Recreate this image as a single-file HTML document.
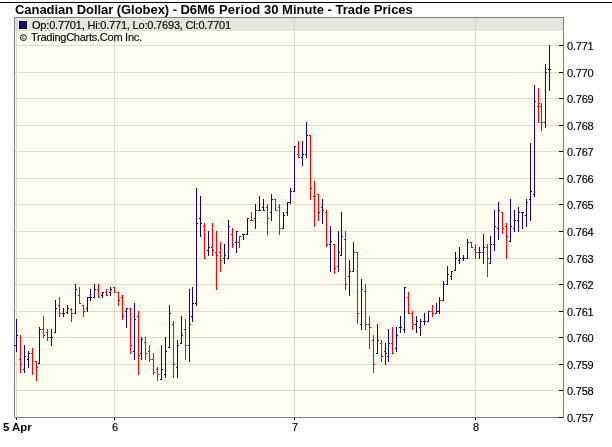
<!DOCTYPE html>
<html><head><meta charset="utf-8"><title>Canadian Dollar (Globex) - D6M6</title>
<style>
html,body{margin:0;padding:0;background:#fff;}
body{width:612px;height:447px;position:relative;overflow:hidden;font-family:"Liberation Sans",sans-serif;color:#000;}
svg{position:absolute;left:0;top:0;display:block;}
.t{position:absolute;white-space:nowrap;line-height:1;}
.t,.yl,.xl{will-change:transform;-webkit-text-stroke:0.15px #000;}
.tt{top:3px;font-size:13px;font-weight:bold;-webkit-text-stroke:0 !important;}
#l1{left:31.7px;top:19.6px;font-size:11px;letter-spacing:-0.19px;}
#l2{left:30.5px;top:31.8px;font-size:11px;letter-spacing:-0.25px;}
.yl{position:absolute;left:566.5px;font-size:11px;letter-spacing:-0.2px;line-height:13px;height:13px;white-space:nowrap;}
.xl{position:absolute;top:421px;width:40px;text-align:center;font-size:11px;line-height:13px;}
#apr{-webkit-text-stroke:0 !important;left:3px;top:421.2px;font-size:11.4px;font-weight:bold;line-height:13px;}
</style></head><body>
<svg width="612" height="447" viewBox="0 0 612 447" shape-rendering="crispEdges"><rect x="0" y="0" width="612" height="447" fill="#ffffff"/><rect x="0" y="2" width="612" height="1" fill="#000"/><rect x="14" y="17" width="550" height="401" fill="#fefef1"/><rect x="15" y="18" width="548" height="13" fill="#e5e5de"/><path d="M15 390h548v1h-548z M15 364h548v1h-548z M15 337h548v1h-548z M15 311h548v1h-548z M15 284h548v1h-548z M15 258h548v1h-548z M15 231h548v1h-548z M15 204h548v1h-548z M15 178h548v1h-548z M15 151h548v1h-548z M15 125h548v1h-548z M15 98h548v1h-548z M15 72h548v1h-548z M15 45h548v1h-548z M16 18h1v399h-1z M114 18h1v399h-1z M294 18h1v399h-1z M475 18h1v399h-1z" fill="#dcdccd"/><path d="M16 18h1v13h-1z M114 18h1v13h-1z M294 18h1v13h-1z M475 18h1v13h-1z" fill="#d5d5cd"/><path d="M14 17h550v1h-550z M14 417h550v1h-550z M14 17h1v401h-1z M563 17h1v401h-1z" fill="#808080"/><path d="M559 417h4v1h-4z M559 390h4v1h-4z M559 364h4v1h-4z M559 337h4v1h-4z M559 311h4v1h-4z M559 284h4v1h-4z M559 258h4v1h-4z M559 231h4v1h-4z M559 204h4v1h-4z M559 178h4v1h-4z M559 151h4v1h-4z M559 125h4v1h-4z M559 98h4v1h-4z M559 72h4v1h-4z M559 45h4v1h-4z M16 418h1v2h-1z M114 418h1v2h-1z M294 418h1v2h-1z M475 418h1v2h-1z" fill="#000"/><path d="M20 335h1v38h-1z M19 359h1v1h-1z M21 364h1v1h-1z M32 348h1v27h-1z M31 353h1v1h-1z M33 361h1v1h-1z M36 361h1v20h-1z M35 361h1v1h-1z M37 367h1v1h-1z M43 316h1v22h-1z M42 329h1v1h-1z M44 335h1v1h-1z M47 329h1v12h-1z M46 332h1v1h-1z M48 337h1v1h-1z M59 297h1v20h-1z M58 305h1v1h-1z M60 313h1v1h-1z M71 308h1v14h-1z M70 309h1v1h-1z M72 313h1v1h-1z M79 287h1v17h-1z M78 295h1v1h-1z M80 303h1v1h-1z M83 305h1v12h-1z M82 305h1v1h-1z M84 311h1v1h-1z M98 284h1v14h-1z M97 289h1v1h-1z M99 297h1v1h-1z M106 289h1v7h-1z M105 292h1v1h-1z M107 295h1v1h-1z M114 287h1v6h-1z M113 287h1v1h-1z M115 292h1v1h-1z M118 292h1v14h-1z M117 292h1v1h-1z M119 300h1v1h-1z M122 295h1v25h-1z M121 297h1v1h-1z M123 316h1v1h-1z M130 308h1v46h-1z M129 308h1v1h-1z M131 345h1v1h-1z M138 311h1v64h-1z M137 316h1v1h-1z M139 355h1v1h-1z M145 337h1v23h-1z M144 342h1v1h-1z M146 353h1v1h-1z M149 345h1v17h-1z M148 351h1v1h-1z M150 359h1v1h-1z M153 353h1v22h-1z M152 359h1v1h-1z M154 372h1v1h-1z M157 367h1v14h-1z M156 369h1v1h-1z M158 374h1v1h-1z M173 321h1v57h-1z M172 324h1v1h-1z M174 364h1v1h-1z M185 319h1v41h-1z M184 329h1v1h-1z M186 345h1v1h-1z M204 223h1v36h-1z M203 226h1v1h-1z M205 258h1v1h-1z M212 223h1v33h-1z M211 247h1v1h-1z M213 250h1v1h-1z M216 231h1v59h-1z M215 252h1v1h-1z M217 255h1v1h-1z M220 242h1v30h-1z M219 252h1v1h-1z M221 260h1v1h-1z M232 228h1v20h-1z M231 234h1v1h-1z M233 244h1v1h-1z M239 236h1v12h-1z M238 242h1v1h-1z M240 236h1v1h-1z M251 212h1v9h-1z M250 220h1v1h-1z M252 220h1v1h-1z M267 204h1v31h-1z M266 207h1v1h-1z M268 218h1v1h-1z M275 199h1v12h-1z M274 199h1v1h-1z M276 210h1v1h-1z M279 204h1v31h-1z M278 207h1v1h-1z M280 228h1v1h-1z M298 141h1v17h-1z M297 154h1v1h-1z M299 157h1v1h-1z M310 135h1v65h-1z M309 135h1v1h-1z M311 188h1v1h-1z M314 181h1v46h-1z M313 196h1v1h-1z M315 196h1v1h-1z M318 194h1v27h-1z M317 194h1v1h-1z M319 212h1v1h-1z M326 210h1v37h-1z M325 212h1v1h-1z M327 244h1v1h-1z M334 244h1v30h-1z M333 244h1v1h-1z M335 268h1v1h-1z M345 231h1v59h-1z M344 239h1v1h-1z M346 284h1v1h-1z M357 252h1v72h-1z M356 252h1v1h-1z M358 313h1v1h-1z M365 284h1v46h-1z M364 291h1v1h-1z M366 324h1v1h-1z M369 316h1v33h-1z M368 324h1v1h-1z M370 327h1v1h-1z M373 335h1v38h-1z M372 340h1v1h-1z M374 364h1v1h-1z M381 340h1v22h-1z M380 343h1v1h-1z M382 356h1v1h-1z M392 327h1v27h-1z M391 343h1v1h-1z M393 353h1v1h-1z M408 292h1v22h-1z M407 297h1v1h-1z M409 313h1v1h-1z M412 311h1v19h-1z M411 313h1v1h-1z M413 324h1v1h-1z M432 305h1v12h-1z M431 311h1v1h-1z M433 313h1v1h-1z M471 242h1v6h-1z M470 242h1v1h-1z M472 247h1v1h-1z M475 244h1v15h-1z M474 249h1v1h-1z M476 252h1v1h-1z M487 244h1v33h-1z M486 247h1v1h-1z M488 258h1v1h-1z M502 212h1v22h-1z M501 212h1v1h-1z M503 228h1v1h-1z M506 223h1v36h-1z M505 226h1v1h-1z M507 236h1v1h-1z M538 88h1v35h-1z M537 106h1v1h-1z M539 103h1v1h-1z M541 103h1v28h-1z M540 106h1v1h-1z M542 122h1v1h-1z" fill="#ff0000"/><path d="M16 319h1v33h-1z M15 345h1v1h-1z M17 335h1v1h-1z M24 345h1v28h-1z M23 369h1v1h-1z M25 356h1v1h-1z M28 351h1v17h-1z M27 359h1v1h-1z M29 353h1v1h-1z M39 327h1v37h-1z M38 363h1v1h-1z M40 329h1v1h-1z M51 329h1v17h-1z M50 337h1v1h-1z M52 337h1v1h-1z M55 300h1v33h-1z M54 332h1v1h-1z M56 308h1v1h-1z M63 308h1v9h-1z M62 313h1v1h-1z M64 313h1v1h-1z M67 305h1v9h-1z M66 312h1v1h-1z M68 308h1v1h-1z M75 284h1v30h-1z M74 313h1v1h-1z M76 289h1v1h-1z M87 297h1v15h-1z M86 308h1v1h-1z M88 297h1v1h-1z M90 289h1v12h-1z M89 297h1v1h-1z M91 297h1v1h-1z M94 284h1v14h-1z M93 297h1v1h-1z M95 289h1v1h-1z M102 292h1v6h-1z M101 295h1v1h-1z M103 292h1v1h-1z M110 287h1v9h-1z M109 292h1v1h-1z M111 289h1v1h-1z M126 308h1v20h-1z M125 311h1v1h-1z M127 308h1v1h-1z M134 303h1v57h-1z M133 351h1v1h-1z M135 319h1v1h-1z M141 337h1v23h-1z M140 353h1v1h-1z M142 339h1v1h-1z M161 345h1v35h-1z M160 379h1v1h-1z M162 369h1v1h-1z M165 337h1v41h-1z M164 374h1v1h-1z M166 351h1v1h-1z M169 305h1v43h-1z M168 347h1v1h-1z M170 313h1v1h-1z M177 340h1v38h-1z M176 367h1v1h-1z M178 345h1v1h-1z M181 316h1v28h-1z M180 343h1v1h-1z M182 335h1v1h-1z M189 289h1v73h-1z M188 345h1v1h-1z M190 324h1v1h-1z M192 287h1v35h-1z M191 316h1v1h-1z M193 303h1v1h-1z M196 188h1v118h-1z M195 303h1v1h-1z M197 223h1v1h-1z M200 196h1v41h-1z M199 218h1v1h-1z M201 223h1v1h-1z M208 231h1v25h-1z M207 250h1v1h-1z M209 247h1v1h-1z M224 244h1v20h-1z M223 258h1v1h-1z M225 255h1v1h-1z M228 220h1v39h-1z M227 258h1v1h-1z M229 226h1v1h-1z M236 231h1v22h-1z M235 242h1v1h-1z M237 231h1v1h-1z M243 234h1v6h-1z M242 234h1v1h-1z M244 234h1v1h-1z M247 218h1v17h-1z M246 234h1v1h-1z M248 218h1v1h-1z M255 204h1v25h-1z M254 218h1v1h-1z M256 210h1v1h-1z M259 196h1v15h-1z M258 210h1v1h-1z M260 210h1v1h-1z M263 199h1v12h-1z M262 207h1v1h-1z M264 210h1v1h-1z M271 194h1v27h-1z M270 212h1v1h-1z M272 199h1v1h-1z M283 212h1v17h-1z M282 228h1v1h-1z M284 215h1v1h-1z M287 202h1v14h-1z M286 212h1v1h-1z M288 202h1v1h-1z M290 188h1v16h-1z M289 202h1v1h-1z M291 191h1v1h-1z M294 146h1v46h-1z M293 191h1v1h-1z M295 146h1v1h-1z M302 141h1v25h-1z M301 157h1v1h-1z M303 154h1v1h-1z M306 122h1v36h-1z M305 154h1v1h-1z M307 135h1v1h-1z M322 199h1v25h-1z M321 207h1v1h-1z M323 210h1v1h-1z M330 226h1v46h-1z M329 244h1v1h-1z M331 241h1v1h-1z M338 231h1v41h-1z M337 266h1v1h-1z M339 252h1v1h-1z M341 212h1v44h-1z M340 255h1v1h-1z M342 236h1v1h-1z M349 260h1v36h-1z M348 276h1v1h-1z M350 271h1v1h-1z M353 242h1v30h-1z M352 271h1v1h-1z M354 252h1v1h-1z M361 279h1v51h-1z M360 324h1v1h-1z M362 289h1v1h-1z M377 324h1v30h-1z M376 353h1v1h-1z M378 340h1v1h-1z M385 343h1v22h-1z M384 351h1v1h-1z M386 353h1v1h-1z M388 329h1v33h-1z M387 356h1v1h-1z M389 343h1v1h-1z M396 327h1v25h-1z M395 348h1v1h-1z M397 335h1v1h-1z M400 316h1v17h-1z M399 327h1v1h-1z M401 327h1v1h-1z M404 287h1v46h-1z M403 329h1v1h-1z M405 287h1v1h-1z M416 316h1v17h-1z M415 324h1v1h-1z M417 321h1v1h-1z M420 319h1v17h-1z M419 327h1v1h-1z M421 321h1v1h-1z M424 313h1v12h-1z M423 321h1v1h-1z M425 321h1v1h-1z M428 311h1v11h-1z M427 321h1v1h-1z M429 311h1v1h-1z M436 303h1v11h-1z M435 313h1v1h-1z M437 311h1v1h-1z M439 297h1v17h-1z M438 311h1v1h-1z M440 300h1v1h-1z M443 281h1v20h-1z M442 300h1v1h-1z M444 284h1v1h-1z M447 266h1v19h-1z M446 284h1v1h-1z M448 274h1v1h-1z M451 271h1v9h-1z M450 276h1v1h-1z M452 271h1v1h-1z M455 252h1v19h-1z M454 270h1v1h-1z M456 258h1v1h-1z M459 247h1v17h-1z M458 260h1v1h-1z M460 258h1v1h-1z M463 255h1v6h-1z M462 258h1v1h-1z M464 258h1v1h-1z M467 239h1v20h-1z M466 258h1v1h-1z M468 242h1v1h-1z M479 247h1v12h-1z M478 252h1v1h-1z M480 252h1v1h-1z M483 234h1v30h-1z M482 252h1v1h-1z M484 247h1v1h-1z M490 236h1v28h-1z M489 263h1v1h-1z M491 244h1v1h-1z M494 210h1v41h-1z M493 244h1v1h-1z M495 226h1v1h-1z M498 202h1v38h-1z M497 228h1v1h-1z M499 210h1v1h-1z M510 199h1v43h-1z M509 241h1v1h-1z M511 226h1v1h-1z M514 210h1v22h-1z M513 228h1v1h-1z M515 220h1v1h-1z M518 207h1v25h-1z M517 220h1v1h-1z M519 212h1v1h-1z M522 212h1v17h-1z M521 212h1v1h-1z M523 212h1v1h-1z M526 199h1v28h-1z M525 215h1v1h-1z M527 202h1v1h-1z M530 143h1v78h-1z M529 199h1v1h-1z M531 191h1v1h-1z M534 85h1v112h-1z M533 194h1v1h-1z M535 101h1v1h-1z M545 64h1v64h-1z M544 122h1v1h-1z M546 72h1v1h-1z M549 45h1v46h-1z M548 69h1v1h-1z M550 69h1v1h-1z" fill="#150183"/><rect x="19.5" y="21.5" width="7" height="7" fill="#150183" stroke="#000" stroke-width="1"/><g shape-rendering="auto" fill="none" stroke="#000"><circle cx="23.4" cy="37.6" r="3.0" stroke-width="0.9"/><path d="M24.4 36.8a1.25 1.25 0 1 0 0 1.6" stroke-width="0.8"/></g></svg>
<div class="t tt" style="left:15px;letter-spacing:-0.05px">Canadian Dollar (Globex) - D6M6</div><div class="t tt" style="left:219.3px;letter-spacing:0.15px">Period</div><div class="t tt" id="t3" style="left:264.2px;">30 Minute - Trade Prices</div>
<div class="t" id="l1">Op:0.7701, Hi:0.771, Lo:0.7693, Cl:0.7701</div>
<div class="t" id="l2">TradingCharts.Com Inc.</div>
<div class="yl" style="top:412.0px">0.757</div><div class="yl" style="top:385.0px">0.758</div><div class="yl" style="top:359.0px">0.759</div><div class="yl" style="top:332.0px">0.760</div><div class="yl" style="top:306.0px">0.761</div><div class="yl" style="top:279.0px">0.762</div><div class="yl" style="top:253.0px">0.763</div><div class="yl" style="top:226.0px">0.764</div><div class="yl" style="top:199.0px">0.765</div><div class="yl" style="top:173.0px">0.766</div><div class="yl" style="top:146.0px">0.767</div><div class="yl" style="top:120.0px">0.768</div><div class="yl" style="top:93.0px">0.769</div><div class="yl" style="top:67.0px">0.770</div><div class="yl" style="top:40.0px">0.771</div><div class="xl" style="left:94.5px">6</div><div class="xl" style="left:274.5px">7</div><div class="xl" style="left:455.5px">8</div>
<div class="t" id="apr">5 Apr</div>
</body></html>
